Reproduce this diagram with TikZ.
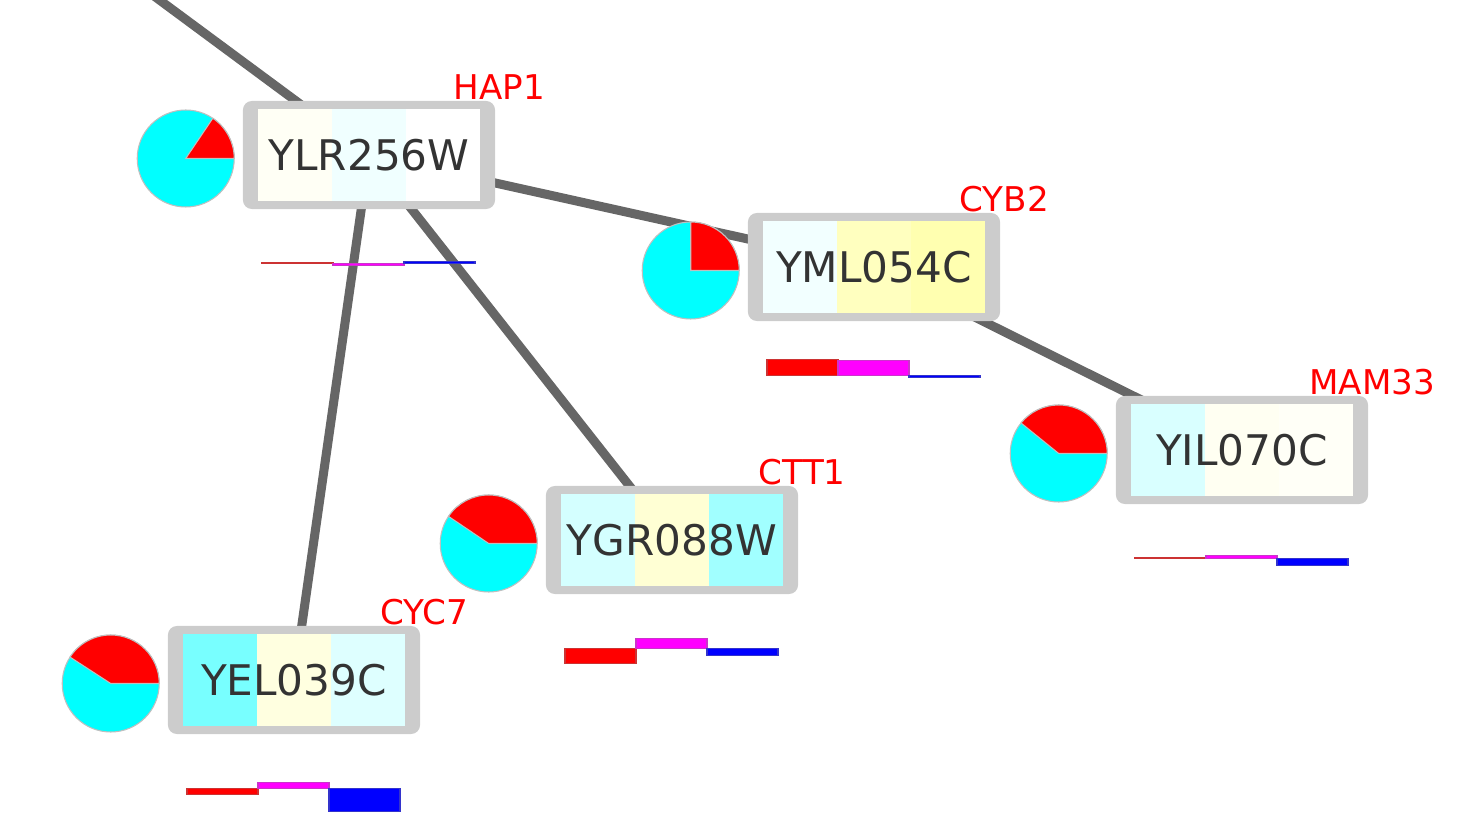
\documentclass[tikz,border=0pt]{standalone}
\usepackage{fontspec}
\setmainfont{DejaVu Sans}
\usetikzlibrary{positioning,backgrounds}
\definecolor{edgegrey}{HTML}{666666}
\definecolor{boxgrey}{HTML}{CCCCCC}
\definecolor{genetext}{HTML}{333333}
\definecolor{aqua}{HTML}{00FFFF}
\definecolor{lemon}{HTML}{FFFF00}
\definecolor{fuchsia}{HTML}{FF00FF}
\definecolor{scarlet}{HTML}{FF0000}
\definecolor{royal}{HTML}{0000FF}

\begin{document}
\begin{tikzpicture}[x=0.01cm, y=0.01cm,
gene/.style n args={3}{rectangle, rounded corners=0.09cm, fill=boxgrey,
  minimum width=2.52cm, minimum height=1.08cm, inner sep=0pt,
  text=genetext, font=\fontsize{12pt}{14pt}\selectfont,
  path picture={
    \fill[#1, sharp corners] ([shift={(-1.11cm,-0.455cm)}]path picture bounding box.center)
      rectangle ([shift={(-0.37cm,0.455cm)}]path picture bounding box.center);
    \fill[#2, sharp corners] ([shift={(-0.37cm,-0.455cm)}]path picture bounding box.center)
      rectangle ([shift={(0.37cm,0.455cm)}]path picture bounding box.center);
    \fill[#3, sharp corners] ([shift={(0.37cm,-0.455cm)}]path picture bounding box.center)
      rectangle ([shift={(1.11cm,0.455cm)}]path picture bounding box.center);}},
genename/.style={text=scarlet, font=\fontsize{9.7pt}{11pt}\selectfont, inner sep=0pt, anchor=base},
link/.style={draw=edgegrey, line width=0.09cm},
wedge/.style={draw=black!25, line width=0.3pt},
bar/.style={fill=#1, draw=#1!60!gray, line width=0.3pt}]
\useasboundingbox (0,0) rectangle (1482,836);

% genes: name/x/y/stripe colours/label/pie angle/bars
\foreach \g/\x/\y/\ca/\cb/\cc/\lab/\ang/\ra/\rb/\rc in {
  YLR256W/369/681/lemon!4/aqua!6/white/HAP1/56/0.5/-2/2,
  YML054C/874/569/aqua!5/lemon!25/lemon!31/CYB2/90/16/15/-2,
  YIL070C/1242/386/aqua!15/lemon!5/lemon!3/MAM33/141/1/3/-7,
  YGR088W/672/296/aqua!17/lemon!17/aqua!37/CTT1/146/-15/10/-7,
  YEL039C/294/156/aqua!53/lemon!12/aqua!13/CYC7/147/-6/6/-23}
{
  \node[gene={\ca}{\cb}{\cc}] (\g) at (\x,\y) {\g};
  \node[genename] (\lab) at ([shift={(3.5,1)}]\g.north east) {\lab};
  \coordinate (\g-pie) at ([shift={(-56.5,-3.5)}]\g.west);
  \filldraw[wedge, fill=aqua] (\g-pie) circle (48.5);
  \filldraw[wedge, fill=scarlet] (\g-pie) -- ++(48.5,0) arc[start angle=0, end angle=\ang, radius=48.5] -- cycle;
  \coordinate (\g-bars) at ([shift={(-107,-108.5)}]\g.center);
  \draw[bar=scarlet] (\g-bars) rectangle ++(71,\ra);
  \draw[bar=fuchsia] ([shift={(71,0)}]\g-bars) rectangle ++(71,\rb);
  \draw[bar=royal] ([shift={(142,0)}]\g-bars) rectangle ++(71,\rc);
}

\coordinate (upstream) at (77,897);
\begin{scope}[on background layer]
\draw[link] (upstream) -- (YLR256W.center);
\draw[link] (YLR256W.center) -- (YML054C.center);
\draw[link] (YML054C.center) -- (YIL070C.center);
\draw[link] (YLR256W.center) -- (YGR088W.center);
\draw[link] (YLR256W.center) -- (YEL039C.center);
\end{scope}
\end{tikzpicture}
\end{document}
